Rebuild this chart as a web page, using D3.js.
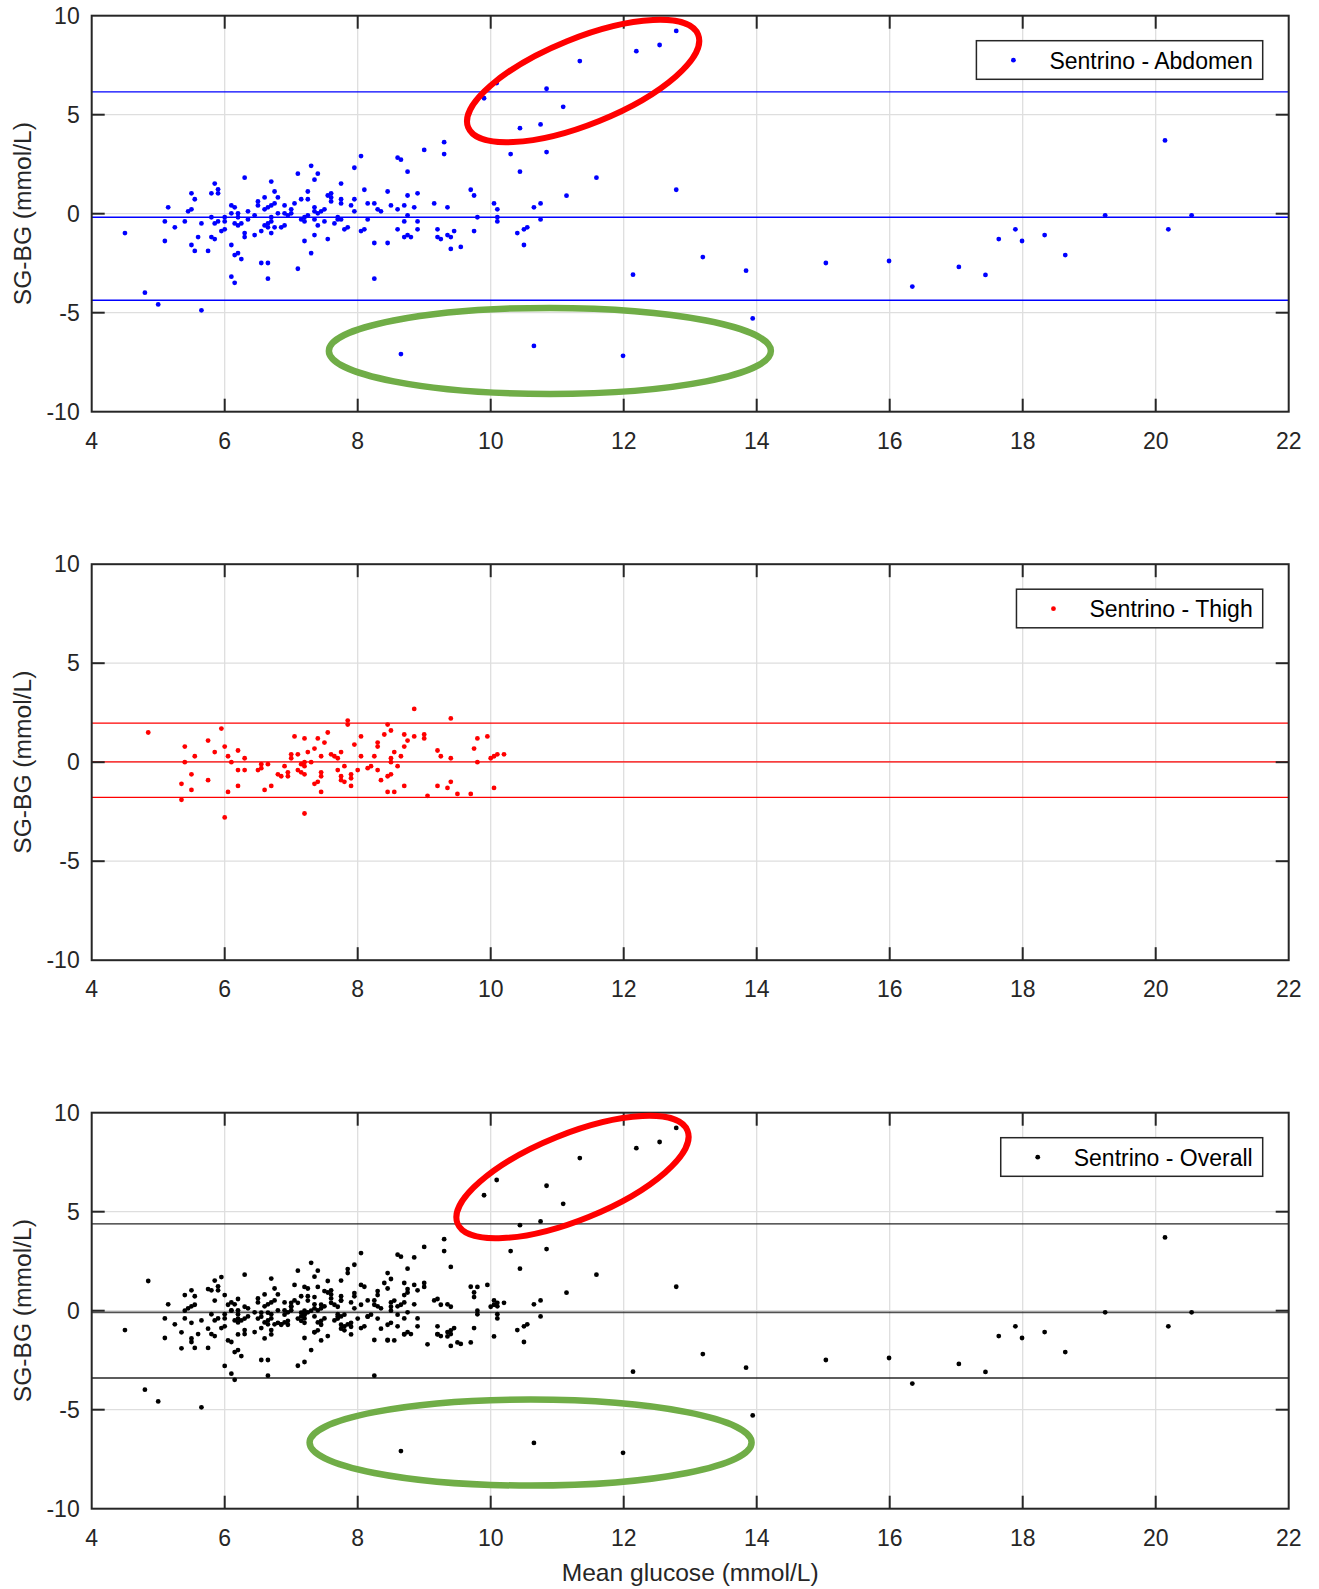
<!DOCTYPE html>
<html>
<head>
<meta charset="utf-8">
<script src="https://cdn.jsdelivr.net/npm/d3@7/dist/d3.min.js"></script>
<style>
  body { margin: 0; background: #fff; }
  text { font-family: "Liberation Sans", Arial, sans-serif; fill: #262626; }
</style>
</head>
<body>
<div id="chart"></div>
<script>
// three Bland-Altman style panels: abdomen, thigh, overall

let xTicks = [4, 6, 8, 10, 12, 14, 16, 18, 20, 22]
let yTicks = [-10, -5, 0, 5, 10]

// [mean glucose, SG-BG]
let abdomenPoints = [
  [4.50,-0.98],[4.80,-3.99],[5.00,-4.58],[5.65,-4.88],[5.10,-0.39],[5.10,-1.38],[5.15,0.32],[5.25,-0.69],
  [5.40,-0.39],[5.45,0.12],[5.50,0.22],[5.50,1.03],[5.55,0.73],[5.50,-1.58],[5.55,-1.88],[5.60,-1.18],
  [5.65,-0.49],[5.75,-1.88],[5.80,-0.18],[5.80,1.03],[5.85,1.52],[5.90,1.23],[5.90,1.03],[5.85,-0.49],
  [5.90,-0.39],[5.80,-1.18],[5.85,-1.28],[5.95,-0.88],[6.00,-0.79],[6.00,-0.18],[6.00,-0.39],[6.10,0.42],
  [6.15,0.32],[6.10,0.02],[6.15,-0.49],[6.20,0.02],[6.20,-0.18],[6.20,-0.59],[6.25,-0.49],[6.30,1.82],
  [6.35,0.12],[6.35,-0.29],[6.30,-0.98],[6.30,-1.18],[6.10,-1.58],[6.15,-2.09],[6.20,-1.99],[6.25,-2.29],
  [6.10,-3.18],[6.15,-3.49],[6.45,-0.08],[6.45,-1.08],[6.50,0.42],[6.50,0.62],[6.55,-0.88],[6.60,0.82],
  [6.60,0.22],[6.60,-0.59],[6.65,0.32],[6.65,-0.49],[6.65,-0.69],[6.70,1.62],[6.70,0.42],[6.70,-0.18],
  [6.70,-0.39],[6.70,-0.98],[6.75,1.12],[6.75,0.52],[6.75,-0.69],[6.80,0.82],[6.80,0.02],[6.55,-2.49],
  [6.65,-2.49],[6.65,-3.28],[6.85,-0.69],[6.90,0.42],[6.90,0.02],[6.90,-0.59],[6.95,-0.08],[7.00,0.22],
  [7.00,0.02],[7.05,0.52],[7.10,2.02],[7.10,-2.78],[7.15,0.73],[7.15,-0.29],[7.20,-0.18],[7.20,-0.39],
  [7.20,-1.38],[7.25,1.12],[7.25,0.73],[7.25,-0.08],[7.30,2.42],[7.30,-1.99],[7.35,1.72],[7.35,0.32],
  [7.35,0.12],[7.35,-0.29],[7.35,-1.08],[7.40,2.02],[7.40,0.02],[7.40,-0.59],[7.45,0.12],[7.50,0.22],
  [7.50,-0.39],[7.55,0.92],[7.55,-1.28],[7.60,1.03],[7.60,0.82],[7.60,0.62],[7.65,-0.49],[7.70,-0.18],
  [7.70,-0.29],[7.75,1.52],[7.75,0.73],[7.75,0.52],[7.75,-0.29],[7.80,-0.79],[7.85,-0.69],[7.90,0.42],
  [7.95,2.32],[7.95,0.73],[7.95,0.12],[8.05,2.91],[8.05,-0.88],[8.10,1.21],[8.10,-0.79],[8.15,0.52],
  [8.15,-0.29],[8.25,0.52],[8.25,-1.48],[8.25,-3.28],[8.30,0.22],[8.35,0.12],[8.45,1.12],[8.45,-1.48],
  [8.50,0.42],[8.60,2.83],[8.65,2.73],[8.60,0.22],[8.60,-0.79],[8.65,-7.09],[8.70,0.42],[8.70,-0.39],
  [8.70,-1.18],[8.75,2.12],[8.75,0.92],[8.75,-0.08],[8.75,-1.08],[8.80,-1.18],[8.85,0.32],[8.90,1.03],
  [8.90,-0.39],[8.90,-0.79],[9.00,3.22],[9.15,0.52],[9.20,-0.79],[9.20,-1.18],[9.25,-1.28],[9.30,3.61],
  [9.30,3.01],[9.35,0.32],[9.35,-1.08],[9.40,-1.18],[9.40,-1.78],[9.45,-0.88],[9.55,-1.68],[9.70,1.21],
  [9.75,0.92],[9.75,-0.88],[9.80,-0.18],[9.90,5.83],[10.05,0.52],[10.10,0.22],[10.10,-0.18],[10.10,-0.39],
  [10.09,6.60],[10.40,-0.98],[10.30,3.01],[10.44,4.32],[10.44,2.12],[10.50,-0.79],[10.55,-0.69],[10.50,-1.58],
  [10.65,0.32],[10.75,0.52],[10.75,-0.29],[10.75,4.51],[10.84,6.31],[10.84,3.11],[11.09,5.40],[11.14,0.91],
  [11.34,7.71],[11.59,1.82],[12.19,8.21],[12.54,8.52],[12.79,9.23],[12.79,1.21],[12.14,-3.08],[13.19,-2.19],
  [13.84,-2.88],[13.94,-5.29],[15.04,-2.49],[15.99,-2.39],[10.65,-6.68],[11.99,-7.18],[16.34,-3.68],[17.04,-2.69],
  [17.44,-3.09],[17.64,-1.28],[17.89,-0.79],[17.99,-1.38],[18.33,-1.08],[18.64,-2.09],[19.24,-0.08],[20.14,3.70],
  [20.19,-0.79],[20.54,-0.08]
]

let thighPoints = [
  [4.85,1.50],[5.35,-1.09],[5.35,-1.90],[5.40,0.79],[5.40,0.00],[5.50,-0.61],[5.50,-1.40],[5.55,0.30],
  [5.75,1.09],[5.75,-0.91],[5.85,0.51],[5.95,1.70],[6.00,0.79],[6.00,-2.79],[6.05,0.30],[6.05,-1.50],
  [6.10,0.00],[6.20,0.59],[6.20,-0.40],[6.20,-1.20],[6.30,0.20],[6.30,-0.40],[6.50,-0.40],[6.55,-0.10],
  [6.55,-0.30],[6.60,-1.40],[6.65,-0.10],[6.70,-1.20],[6.80,-0.61],[6.85,-0.71],[6.90,-0.20],[6.95,-0.51],
  [6.95,-0.71],[7.00,0.40],[7.00,0.20],[7.05,1.30],[7.10,0.40],[7.10,-0.40],[7.15,-0.10],[7.15,-0.51],
  [7.20,1.20],[7.20,0.00],[7.20,-0.20],[7.20,-0.61],[7.20,-2.59],[7.25,0.51],[7.30,0.00],[7.35,0.69],
  [7.35,-1.09],[7.40,1.20],[7.40,-0.99],[7.45,0.30],[7.45,-0.51],[7.45,-0.71],[7.45,-1.50],[7.50,0.99],
  [7.55,1.50],[7.60,0.40],[7.65,0.30],[7.70,0.20],[7.70,-0.40],[7.75,0.51],[7.75,-0.71],[7.75,-0.91],
  [7.80,-0.20],[7.80,-0.99],[7.85,2.10],[7.85,1.90],[7.90,-0.61],[7.90,-0.81],[7.90,-1.20],[7.95,0.89],
  [8.00,-0.40],[8.05,1.30],[8.05,0.30],[8.15,-0.30],[8.20,-0.20],[8.25,0.30],[8.30,0.99],[8.30,0.79],
  [8.30,-0.40],[8.35,-0.91],[8.40,1.40],[8.45,1.90],[8.45,-0.71],[8.45,-1.50],[8.50,1.60],[8.50,0.20],
  [8.50,0.00],[8.50,-0.61],[8.55,0.51],[8.55,-1.50],[8.60,-0.20],[8.65,0.30],[8.70,1.40],[8.70,0.79],
  [8.70,-1.20],[8.75,1.09],[8.85,2.69],[8.85,1.30],[9.00,1.40],[9.00,1.20],[9.05,-1.70],[9.20,0.59],
  [9.20,-1.20],[9.25,0.30],[9.35,-1.30],[9.40,2.21],[9.40,0.20],[9.40,-0.99],[9.50,-1.60],[9.70,-1.60],
  [9.75,0.69],[9.80,1.20],[9.80,0.00],[9.95,1.30],[10.00,0.20],[10.05,-1.30],[10.05,0.30],[10.10,0.40],
  [10.20,0.40]
]

let overallPoints = abdomenPoints.concat(thighPoints)

// upper limit, mean, lower limit
let abdomenLimits = [6.15, -0.18, -4.37]
let thighLimits = [1.97, 0.02, -1.78]
let overallLimits = [4.39, -0.08, -3.40]

// highlight ellipses: centre in data units
let redMarks = [[11.39, 6.70], null, [11.23, 6.75]]
let greenMarks = [[10.89, -6.93], null, [10.60, -6.66]]

let margin = {left: 91.7, top: 15.7}
let width = 1197
let height = 396
let gap = 548.5

let svg = d3.select('#chart')
  .append('svg')
  .attr('width', 1319)
  .attr('height', 1589)

let x = d3.scaleLinear().domain([4, 22]).range([0, width])
let y = d3.scaleLinear().domain([-10, 10]).range([height, 0])

let panels = [
  {points: abdomenPoints, limits: abdomenLimits, color: '#0000ff', lineColor: '#0000ff', label: 'Sentrino - Abdomen'},
  {points: thighPoints, limits: thighLimits, color: '#ff0000', lineColor: '#ff0000', label: 'Sentrino - Thigh'},
  {points: overallPoints, limits: overallLimits, color: '#000000', lineColor: '#262626', label: 'Sentrino - Overall'}
]

panels.forEach((p, i) => {
  let g = svg.append('g')
    .attr('transform', `translate(${margin.left},${margin.top + i * gap})`)

  // grid
  g.selectAll('.gx').data(xTicks.slice(1, -1)).enter()
    .append('line')
    .attr('x1', d => x(d)).attr('x2', d => x(d))
    .attr('y1', 0).attr('y2', height)
    .attr('stroke', '#dedede').attr('stroke-width', 1.3)
  g.selectAll('.gy').data(yTicks.slice(1, -1)).enter()
    .append('line')
    .attr('y1', d => y(d)).attr('y2', d => y(d))
    .attr('x1', 0).attr('x2', width)
    .attr('stroke', '#dedede').attr('stroke-width', 1.3)

  // limit lines
  g.selectAll('.lim').data(p.limits).enter()
    .append('line')
    .attr('x1', 0).attr('x2', width)
    .attr('y1', d => y(d)).attr('y2', d => y(d))
    .attr('stroke', p.lineColor)
    .attr('stroke-width', (d, j) => (i == 2 && j == 1) ? 1.8 : 1.3)
    .attr('stroke-opacity', (d, j) => (i == 2 && j == 1) ? 0.8 : 1)

  // points
  g.selectAll('.pt').data(p.points).enter()
    .append('circle')
    .attr('cx', d => x(d[0]))
    .attr('cy', d => y(d[1]))
    .attr('r', 2.4)
    .attr('fill', p.color)

  // frame and ticks (inside, all four sides)
  g.append('rect')
    .attr('width', width).attr('height', height)
    .attr('fill', 'none').attr('stroke', '#262626').attr('stroke-width', 2)
  let tl = 13
  xTicks.slice(1, -1).forEach(t => {
    g.append('line').attr('x1', x(t)).attr('x2', x(t)).attr('y1', height).attr('y2', height - tl)
      .attr('stroke', '#262626').attr('stroke-width', 2)
    g.append('line').attr('x1', x(t)).attr('x2', x(t)).attr('y1', 0).attr('y2', tl)
      .attr('stroke', '#262626').attr('stroke-width', 2)
  })
  yTicks.slice(1, -1).forEach(t => {
    g.append('line').attr('x1', 0).attr('x2', tl).attr('y1', y(t)).attr('y2', y(t))
      .attr('stroke', '#262626').attr('stroke-width', 2)
    g.append('line').attr('x1', width).attr('x2', width - tl).attr('y1', y(t)).attr('y2', y(t))
      .attr('stroke', '#262626').attr('stroke-width', 2)
  })

  // tick labels
  g.selectAll('.xl').data(xTicks).enter()
    .append('text')
    .attr('x', d => x(d)).attr('y', height + 37)
    .attr('text-anchor', 'middle')
    .style('font-size', '23px')
    .text(d => d)
  g.selectAll('.yl').data(yTicks).enter()
    .append('text')
    .attr('x', -12).attr('y', d => y(d))
    .attr('dy', '0.36em')
    .attr('text-anchor', 'end')
    .style('font-size', '23px')
    .text(d => d)

  g.append('text')
    .attr('transform', `translate(${-60.7},${height / 2}) rotate(-90)`)
    .attr('text-anchor', 'middle')
    .style('font-size', '24.6px')
    .text('SG-BG (mmol/L)')

  // ellipses
  if (redMarks[i]) {
    g.append('ellipse')
      .attr('transform', `translate(${x(redMarks[i][0])},${y(redMarks[i][1])}) rotate(-22)`)
      .attr('rx', 124).attr('ry', 43)
      .attr('fill', 'none').attr('stroke', '#ff0000').attr('stroke-width', 6)
  }
  if (greenMarks[i]) {
    g.append('ellipse')
      .attr('cx', x(greenMarks[i][0])).attr('cy', y(greenMarks[i][1]))
      .attr('rx', 221).attr('ry', 43)
      .attr('fill', 'none').attr('stroke', '#70ad47').attr('stroke-width', 6.5)
  }

  // legend
  let lg = g.append('g')
  let box = lg.append('rect')
    .attr('fill', '#fff').attr('stroke', '#262626').attr('stroke-width', 1.5)
  let lt = lg.append('text')
    .style('font-size', '23px')
    .style('fill', '#000')
    .text(p.label)
  let tw = lt.node().getComputedTextLength()
  let bw = tw + 83
  let bx = width - 26 - bw
  let by = 25
  box.attr('x', bx).attr('y', by).attr('width', bw).attr('height', 38.6)
  lt.attr('x', bx + 73).attr('y', by + 28.3)
  lg.append('circle')
    .attr('cx', bx + 37).attr('cy', by + 19.5)
    .attr('r', 2.4).attr('fill', p.color)
})

svg.append('text')
  .attr('x', margin.left + width / 2)
  .attr('y', 1581)
  .attr('text-anchor', 'middle')
  .style('font-size', '24.6px')
  .text('Mean glucose (mmol/L)')
</script>
</body>
</html>
